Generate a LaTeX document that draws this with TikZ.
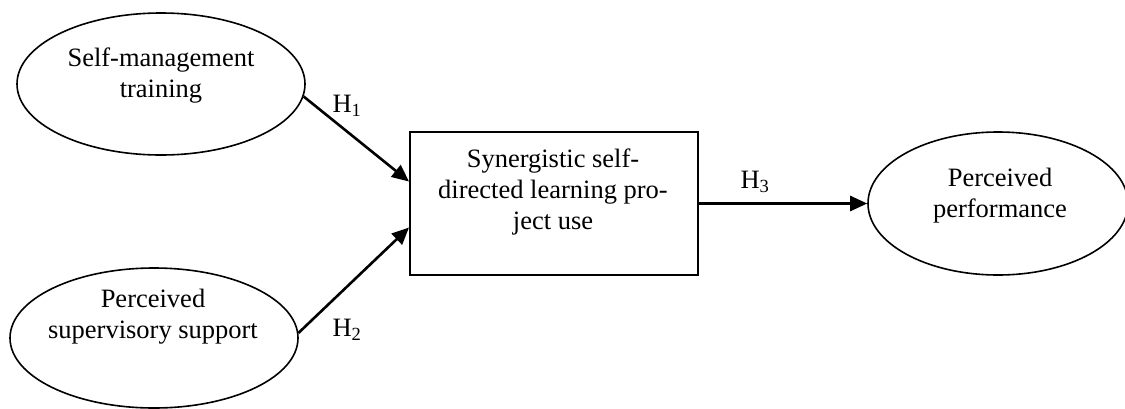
\documentclass[tikz,border=0pt]{standalone}
\usepackage{fontspec}
\setmainfont{Liberation Serif}
\usetikzlibrary{shapes.geometric,arrows.meta,calc}
\begin{document}
\begin{tikzpicture}[x=1pt,y=-1pt,
  oval/.style={draw,ellipse,line width=1.6pt,inner sep=0pt},
  boxnode/.style={draw,rectangle,line width=2pt,inner sep=0pt,minimum width=288pt,minimum height=143pt},
  txt/.style={align=center,font=\fontsize{26.5}{31}\selectfont,inner sep=0pt},
  hlab/.style={font=\fontsize{26.5}{31}\selectfont,inner sep=0pt},
  arr/.style={line width=2.6pt,-{Triangle[length=17pt,width=15pt]}}]
\useasboundingbox (0,0) rectangle (1125,408);
\node[oval,minimum width=288pt,minimum height=142pt] (e1) at (161,84) {};
\node[oval,minimum width=288pt,minimum height=140pt] (e2) at (154,338) {};
\node[oval,minimum width=260pt,minimum height=143pt] (e3) at (998,203.5) {};
\node[boxnode] (r) at (554,203.5) {};
\node[txt] (t1) at (161,76) {Self-management\\training};
\node[txt] (t2) at (153,317) {Perceived\\supervisory support};
\node[txt] (t3) at (553,192) {Synergistic self-\\directed learning pro-\\ject use};
\node[txt] (t4) at (1000,196) {Perceived\\performance};
\draw[arr] (e1.-5) -- ($(r.west)+(0,-22)$);
\draw[arr] (e2.2) -- ($(r.west)+(0,24)$);
\draw[arr] (r.east) -- (e3.west);
\node[hlab] (h1) at (347,106) {H\textsubscript{1}};
\node[hlab] (h2) at (347,330) {H\textsubscript{2}};
\node[hlab] (h3) at (755,182) {H\textsubscript{3}};
\end{tikzpicture}
\end{document}
